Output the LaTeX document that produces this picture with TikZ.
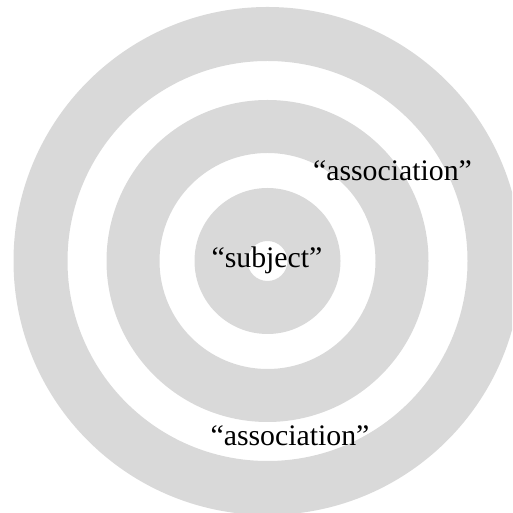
\documentclass[tikz,border=0pt]{standalone}
\usepackage{fontspec}
\setmainfont{Liberation Serif}
\definecolor{ringgray}{HTML}{D9D9D9}
\begin{document}
\begin{tikzpicture}[x=1pt,y=1pt,
  ring/.style={fill=ringgray,even odd rule},
  lbl/.style={anchor=base,inner sep=0pt,font=\fontsize{29.8}{34}\selectfont,text=black}]
\useasboundingbox (0,0) rectangle (512,513);
\clip (0,0) rectangle (512,513);
\coordinate (c) at (267.5,252);
\fill[ring] (c) circle (254) (c) circle (200);
\fill[ring] (c) circle (161) (c) circle (108);
\fill[ring] (c) circle (73) (c) circle (20);
\node[lbl] (subj) at (267,245) {“subject”};
\node[lbl] (assoc1) at (392.5,332.5) {“association”};
\node[lbl] (assoc2) at (290,67) {“association”};
\end{tikzpicture}
\end{document}
